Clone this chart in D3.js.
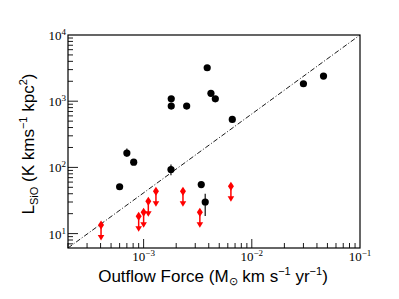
<!DOCTYPE html>
<html>
<head>
<meta charset="utf-8">
<script src="https://cdn.jsdelivr.net/npm/d3@7"></script>
<style>
  body { margin: 0; background: #fff; }
  svg { display: block; }
</style>
</head>
<body>
<div id="chart"></div>
<script>
const width = 399;
const height = 299;

// detections: outflow force vs L_SiO
const detForce = [6.0e-4, 7.0e-4, 8.1e-4, 1.79e-3, 1.8e-3, 1.8e-3, 2.5e-3, 3.41e-3, 3.71e-3, 3.87e-3, 4.19e-3, 4.6e-3, 6.6e-3, 0.030, 0.046];
const detLum   = [51, 165, 120, 93, 1087, 843, 843, 55, 30, 3200, 1313, 1087, 531, 1834, 2400];
// error bars (null = none)
const detLo = [null, 144, null, 76, null, null, null, null, 18.5, null, null, null, null, null, null];
const detHi = [null, 193, null, 111, null, null, null, null, 40, null, null, null, null, null, null];

// upper limits
const limForce = [4.04e-4, 9.0e-4, 1.0e-3, 1.105e-3, 1.3e-3, 2.31e-3, 3.31e-3, 6.41e-3];
const limLum   = [13.5, 18.3, 21, 30.8, 43.6, 43.6, 21, 52];

// reference line
const lineForce = [2e-4, 0.1];
const lineLum   = [6.06, 1e4];

const xTicks = [1e-3, 1e-2, 1e-1];
const xTickExp = ["−3", "−2", "−1"];
const yTicks = [1e1, 1e2, 1e3, 1e4];
const yTickExp = ["1", "2", "3", "4"];

const margin = { top: 35, right: 39, bottom: 51, left: 68 };
const x = d3.scaleLog().domain([2e-4, 0.1]).range([margin.left, width - margin.right]);
const y = d3.scaleLog().domain([6.06, 1e4]).range([height - margin.bottom, margin.top]);

const svg = d3.select("#chart").append("svg")
  .attr("width", width)
  .attr("height", height);

const x0 = x.range()[0], x1 = x.range()[1];
const y0 = y.range()[0], y1 = y.range()[1];

// minor / major ticks (inward)
const minorX = [];
for (let e = -4; e <= -2; e++) for (let m = 1; m <= 9; m++) {
  const v = m * Math.pow(10, e);
  if (v >= 2e-4 && v <= 0.1) minorX.push(v);
}
const minorY = [];
for (let e = 0; e <= 3; e++) for (let m = 1; m <= 9; m++) {
  const v = m * Math.pow(10, e);
  if (v >= 6.06 && v <= 1e4) minorY.push(v);
}

const tickG = svg.append("g").attr("stroke", "#000").attr("stroke-width", 0.9);
tickG.selectAll(".mx").data(minorX).enter().append("line")
  .attr("x1", d => x(d)).attr("x2", d => x(d))
  .attr("y1", y0).attr("y2", d => y0 - (xTicks.includes(d) ? 9 : 5));
tickG.selectAll(".my").data(minorY).enter().append("line")
  .attr("y1", d => y(d)).attr("y2", d => y(d))
  .attr("x1", x0).attr("x2", d => x0 + (yTicks.includes(d) ? 10 : 5));

// frame
svg.append("rect")
  .attr("x", x0).attr("y", y1)
  .attr("width", x1 - x0).attr("height", y0 - y1)
  .attr("fill", "none").attr("stroke", "#000").attr("stroke-width", 1.2);

// tick labels
const serif = "'Liberation Serif', 'DejaVu Serif', serif";
xTicks.forEach((v, i) => {
  const t = svg.append("text")
    .attr("x", x(v)).attr("y", 261)
    .attr("text-anchor", "middle")
    .attr("font-family", serif).attr("font-size", 13);
  t.append("tspan").text("10");
  t.append("tspan").attr("dy", -5).attr("font-size", 9).text(xTickExp[i]);
});
yTicks.forEach((v, i) => {
  const t = svg.append("text")
    .attr("x", 66).attr("y", y(v) + 5)
    .attr("text-anchor", "end")
    .attr("font-family", serif).attr("font-size", 13);
  t.append("tspan").text("10");
  t.append("tspan").attr("dy", -5).attr("font-size", 9).text(yTickExp[i]);
});

// axis labels
const sans = "'Liberation Sans', Arial, sans-serif";
const xl = svg.append("text")
  .attr("x", 213).attr("y", 282)
  .attr("text-anchor", "middle")
  .attr("font-family", sans).attr("font-size", 17);
xl.append("tspan").text("Outflow Force (M");
xl.append("tspan").attr("dy", 3).attr("font-size", 11).text("⊙");
xl.append("tspan").attr("dy", -3).text(" km s");
xl.append("tspan").attr("dy", -7).attr("font-size", 11).text("−1");
xl.append("tspan").attr("dy", 7).text(" yr");
xl.append("tspan").attr("dy", -7).attr("font-size", 11).text("−1");
xl.append("tspan").attr("dy", 7).text(")");

const yl = svg.append("text")
  .attr("transform", `translate(34, 144) rotate(-90)`)
  .attr("text-anchor", "middle")
  .attr("font-family", sans).attr("font-size", 17);
yl.append("tspan").text("L");
yl.append("tspan").attr("dy", 4).attr("font-size", 11).text("SiO");
yl.append("tspan").attr("dy", -4).text(" (K kms");
yl.append("tspan").attr("dy", -7).attr("font-size", 11).text("−1");
yl.append("tspan").attr("dy", 7).text(" kpc");
yl.append("tspan").attr("dy", -7).attr("font-size", 11).text("2");
yl.append("tspan").attr("dy", 7).text(")");

// plot area clip
svg.append("clipPath").attr("id", "clip").append("rect")
  .attr("x", x0).attr("y", y1).attr("width", x1 - x0).attr("height", y0 - y1);

const plot = svg.append("g").attr("clip-path", "url(#clip)");

// dash-dot reference line
plot.append("path")
  .datum(lineForce.map((f, i) => [f, lineLum[i]]))
  .attr("d", d3.line().x(d => x(d[0])).y(d => y(d[1])))
  .attr("fill", "none").attr("stroke", "#000").attr("stroke-width", 0.9)
  .attr("stroke-dasharray", "5,2,1,2");

// detections
const det = detForce.map((f, i) => ({ f, l: detLum[i], lo: detLo[i], hi: detHi[i] }));
plot.selectAll(".err").data(det.filter(d => d.lo !== null)).enter().append("line")
  .attr("x1", d => x(d.f)).attr("x2", d => x(d.f))
  .attr("y1", d => y(d.lo)).attr("y2", d => y(d.hi))
  .attr("stroke", "#222").attr("stroke-width", 1.3);
plot.selectAll(".det").data(det).enter().append("circle")
  .attr("cx", d => x(d.f)).attr("cy", d => y(d.l))
  .attr("r", 3.6).attr("fill", "#000");

// upper limits
const lim = limForce.map((f, i) => ({ f, l: limLum[i] }));
const limG = plot.selectAll(".lim").data(lim).enter().append("g")
  .attr("transform", d => `translate(${x(d.f)},${y(d.l)})`);
limG.append("line")
  .attr("x1", 0).attr("x2", 0).attr("y1", 0).attr("y2", 11)
  .attr("stroke", "red").attr("stroke-width", 1.5);
limG.append("path")
  .attr("d", "M-3.3,10 L3.3,10 L0,15.5 Z")
  .attr("fill", "red");
limG.append("path")
  .attr("d", "M0,-4.5 L3,0 L0,4.5 L-3,0 Z")
  .attr("fill", "red");
</script>
</body>
</html>
